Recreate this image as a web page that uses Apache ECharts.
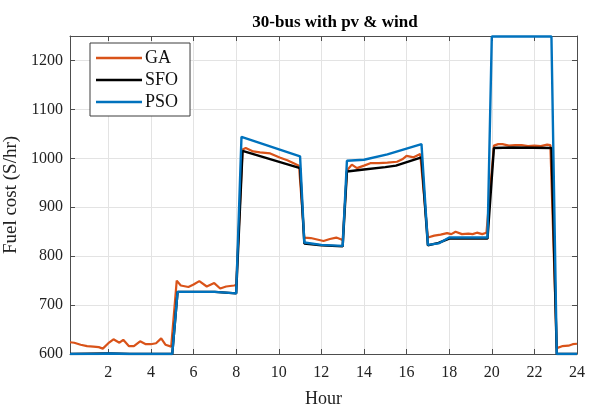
<!DOCTYPE html>
<html>
<head>
<meta charset="utf-8">
<script src="https://cdn.jsdelivr.net/npm/echarts@6/dist/echarts.min.js"></script>
<style>
  html, body { margin: 0; padding: 0; background: #fff; }
  #main { width: 596px; height: 407px; }
</style>
</head>
<body>
<div id="main"></div>
<script>
// tick labels
const xTicks = [2, 4, 6, 8, 10, 12, 14, 16, 18, 20, 22, 24]
const yTicks = [600, 700, 800, 900, 1000, 1100, 1200]

// GA
const gaHours = [0.2, 0.4, 0.7, 1.0, 1.3, 1.55, 1.74, 2.0, 2.24, 2.52, 2.7, 2.97, 3.2, 3.49, 3.76, 3.99, 4.24, 4.48, 4.68, 4.95,
  5.21, 5.4, 5.76, 6.0, 6.27, 6.62, 6.97, 7.25, 7.53, 7.9, 8.0,
  8.3, 8.45, 8.8, 9.12, 9.6, 10.07, 10.4, 10.7, 10.95,
  11.2, 11.5, 11.8, 12.1, 12.4, 12.7, 13.0,
  13.2, 13.43, 13.67, 14.0, 14.3, 14.7, 15.1, 15.55, 15.8, 16.0, 16.33, 16.64, 16.7,
  17.0, 17.3, 17.6, 17.9, 18.1, 18.3, 18.6, 18.9, 19.1, 19.3, 19.55, 19.75,
  20.1, 20.3, 20.5, 20.8, 21.1, 21.4, 21.7, 22.0, 22.3, 22.6, 22.75,
  23.05, 23.3, 23.6, 23.8, 24]
const gaCost = [624, 623, 619, 616, 615, 614, 611, 622, 630, 623, 629, 616, 616, 626, 620, 620, 622, 632, 619, 615,
  750, 740, 737, 742, 749, 738, 745, 734, 738, 740, 741,
  1018, 1021, 1014, 1012, 1010, 1001, 996, 990, 985,
  838, 837, 834, 831, 835, 838, 833,
  975, 987, 980, 985, 990, 990, 991, 993, 998, 1005, 1002, 1009, 1006,
  838, 842, 844, 847, 845, 850, 845, 846, 845, 848, 845, 848,
  1026, 1029, 1029, 1026, 1027, 1027, 1025, 1026, 1025, 1028, 1027,
  612, 616, 617, 620, 621]

// SFO
const sfoHours = [0.2, 2, 3, 5.0, 5.25, 7, 8.0, 8.3, 11.0, 11.2, 12, 13.0, 13.2, 14, 15, 15.5, 16.7,
  17.0, 17.5, 18.0, 19.8, 20.1, 21, 22.8, 23.05, 24]
const sfoCost = [600, 601, 600, 600, 727, 727, 724, 1015, 980, 826, 822, 820, 973, 977, 982, 985, 1002,
  822, 827, 836, 836, 1021, 1022, 1021, 600, 600]

// PSO
const psoHours = [0.2, 1.5, 2, 3, 5.0, 5.25, 7.0, 8.0, 8.25, 11.0, 11.2, 12, 13.0, 13.2, 14, 15.1, 16.7,
  17.0, 17.5, 18.0, 19.8, 20.0, 22.8, 23.05, 24]
const psoCost = [600, 600, 601, 600, 600, 727, 727, 724, 1044, 1004, 828, 823, 821, 995, 997, 1008, 1029,
  823, 826, 838, 838, 1249, 1249, 600, 600]

function pairs(hours, vals) {
  return hours.map(function(h, i) {
    return [h, vals[i]]
  })
}

const serif = 'Liberation Serif'
const axisColor = '#4d4d4d'

var chartDom = document.getElementById('main')
var myChart = echarts.init(chartDom)

const xBase = {
  type: 'value',
  min: 0.2,
  max: 24,
  axisLine: { show: true, onZero: false, lineStyle: { color: axisColor, width: 1 } },
  axisTick: { show: true, inside: true, length: 5, customValues: xTicks, lineStyle: { color: axisColor } },
  splitLine: { show: false }
}
const yBase = {
  type: 'value',
  min: 600,
  max: 1250,
  axisLine: { show: true, onZero: false, lineStyle: { color: axisColor, width: 1 } },
  axisTick: { show: true, inside: true, length: 5, customValues: yTicks, lineStyle: { color: axisColor } },
  splitLine: { show: false }
}

const option = {
  backgroundColor: '#fff',
  animation: false,
  title: {
    text: '30-bus with pv & wind',
    left: 330,
    textAlign: 'center',
    top: 9,
    textStyle: { fontFamily: serif, fontSize: 17, fontWeight: 'bold', color: '#000' }
  },
  grid: { left: 70, right: 19, top: 36, bottom: 53, containLabel: false, outerBoundsMode: 'none' },
  legend: {
    orient: 'vertical',
    left: 90,
    top: 43,
    icon: 'rect',
    itemWidth: 46,
    itemHeight: 2.5,
    itemGap: 4,
    padding: [6, 12, 5, 6],
    borderColor: '#3c3c3c',
    borderWidth: 1,
    borderRadius: 0,
    backgroundColor: '#fff',
    textStyle: { fontFamily: serif, fontSize: 18, color: '#111', lineHeight: 18, padding: [0, 0, 0, -2] },
    data: ['GA', 'SFO', 'PSO']
  },
  xAxis: [
    Object.assign({}, xBase, {
      position: 'bottom',
      name: 'Hour',
      nameLocation: 'middle',
      nameGap: 36,
      nameTextStyle: { fontFamily: serif, fontSize: 18, color: '#222' },
      axisLabel: { show: true, customValues: xTicks, margin: 11, fontFamily: serif, fontSize: 16, color: '#222' },
      splitLine: { show: true, lineStyle: { color: '#e3e3e3', width: 1 } }
    }),
    Object.assign({}, xBase, { position: 'top', axisLabel: { show: false } })
  ],
  yAxis: [
    Object.assign({}, yBase, {
      position: 'left',
      name: 'Fuel cost (S/hr)',
      nameLocation: 'middle',
      nameGap: 44,
      nameTextStyle: { fontFamily: serif, fontSize: 19, color: '#222' },
      axisLabel: {
        show: true,
        customValues: yTicks,
        margin: 7,
        fontFamily: serif,
        fontSize: 16,
        color: '#222',
        formatter: function(v) { return String(v) }
      },
      splitLine: { show: true, lineStyle: { color: '#e3e3e3', width: 1 } }
    }),
    Object.assign({}, yBase, { position: 'right', axisLabel: { show: false } })
  ],
  series: [
    {
      name: 'GA',
      type: 'line',
      symbol: 'none',
      data: pairs(gaHours, gaCost),
      lineStyle: { color: '#D95319', width: 2.2 },
      itemStyle: { color: '#D95319' }
    },
    {
      name: 'SFO',
      type: 'line',
      symbol: 'none',
      data: pairs(sfoHours, sfoCost),
      lineStyle: { color: '#000000', width: 2.4 },
      itemStyle: { color: '#000000' }
    },
    {
      name: 'PSO',
      type: 'line',
      symbol: 'none',
      data: pairs(psoHours, psoCost),
      lineStyle: { color: '#0072BD', width: 2.4 },
      itemStyle: { color: '#0072BD' }
    }
  ]
}

myChart.setOption(option)
</script>
</body>
</html>
